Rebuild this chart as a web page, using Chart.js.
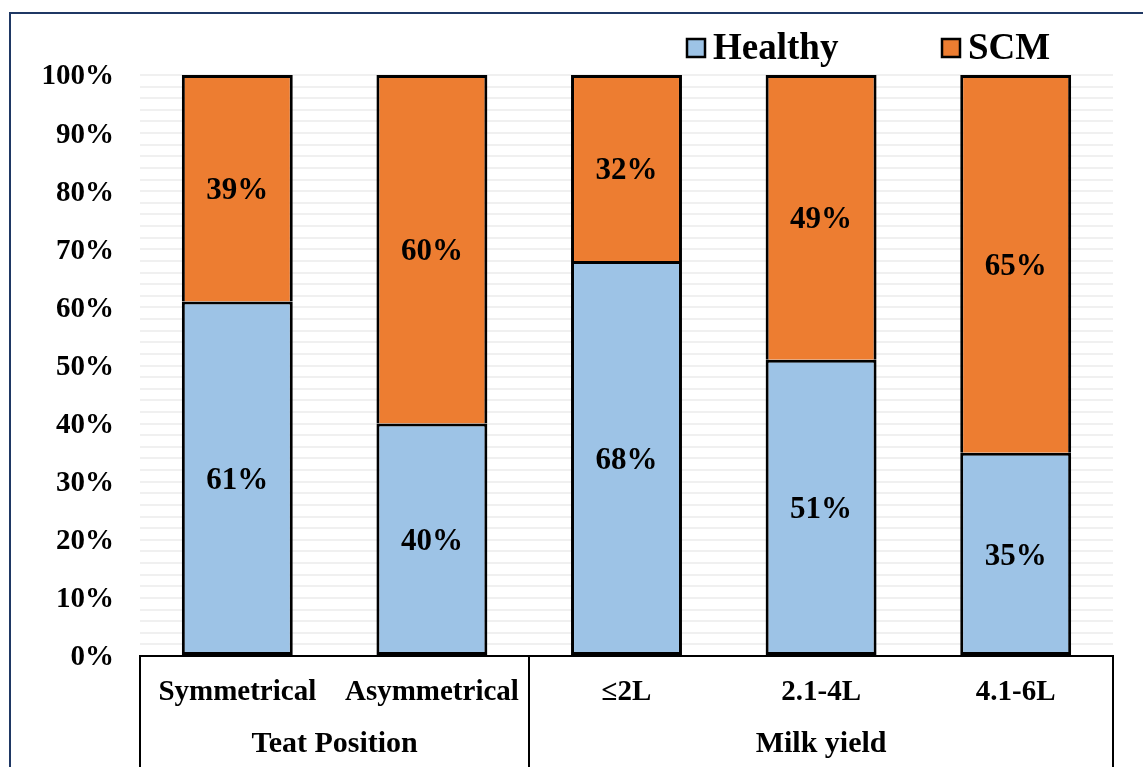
<!DOCTYPE html>
<html>
<head>
<meta charset="utf-8">
<script src="https://cdn.jsdelivr.net/npm/chart.js@4/dist/chart.umd.min.js"></script>
<style>
  html, body { margin: 0; padding: 0; background: #ffffff; }
  #wrap { width: 1143px; height: 767px; position: relative; }
</style>
</head>
<body>
<div id="wrap"><canvas id="chart" width="1143" height="767"></canvas></div>
<script>
// Categories along the x axis and the group each belongs to
const categories = ['Symmetrical', 'Asymmetrical', '\u22642L', '2.1-4L', '4.1-6L'];
const groupNames = ['Teat Position', 'Milk yield'];
const groupSizes = [2, 3];

// Share of cows (%) in each category
const healthy = [61, 40, 68, 51, 35];
const scm = [39, 60, 32, 49, 65];

// Y axis tick values that carry a label
const yLabelStep = 10;

const SERIF = '"Liberation Serif", "Times New Roman", serif';
const BLUE = '#9DC3E6';
const ORANGE = '#ED7D31';

// Outer frame of the figure
const framePlugin = {
  id: 'frame',
  beforeDraw(chart) {
    const ctx = chart.ctx;
    ctx.save();
    ctx.strokeStyle = '#1F3864';
    ctx.lineWidth = 2;
    ctx.beginPath();
    ctx.moveTo(10, chart.height);
    ctx.lineTo(10, 13);
    ctx.lineTo(chart.width, 13);
    ctx.stroke();
    ctx.restore();
  }
};

// Percentage text centred in every bar segment
const barLabels = {
  id: 'barLabels',
  afterDatasetsDraw(chart) {
    const ctx = chart.ctx;
    ctx.save();
    ctx.font = 'bold 31px ' + SERIF;
    ctx.fillStyle = '#000000';
    ctx.textAlign = 'center';
    ctx.textBaseline = 'middle';
    chart.data.datasets.forEach((ds, di) => {
      const meta = chart.getDatasetMeta(di);
      meta.data.forEach((bar, i) => {
        const v = ds.data[i];
        ctx.fillText(v + '%', bar.x, (bar.y + bar.base) / 2 + 3);
      });
    });
    ctx.restore();
  }
};

// Two-level category axis: separators and group titles under the tick labels
const groupAxis = {
  id: 'groupAxis',
  afterDraw(chart) {
    const ctx = chart.ctx;
    const xs = chart.scales.x;
    const area = chart.chartArea;
    const step = (area.right - area.left) / categories.length;
    ctx.save();
    ctx.strokeStyle = '#000000';
    ctx.lineWidth = 2;
    // boundaries between groups
    let idx = 0;
    const bounds = [xs.getPixelForValue(0) - step / 2];
    groupSizes.forEach(n => {
      idx += n;
      bounds.push(xs.getPixelForValue(idx - 1) + step / 2);
    });
    bounds.forEach(b => {
      ctx.beginPath();
      ctx.moveTo(Math.round(b), area.bottom);
      ctx.lineTo(Math.round(b), chart.height);
      ctx.stroke();
    });
    // group titles
    ctx.font = 'bold 30px ' + SERIF;
    ctx.fillStyle = '#000000';
    ctx.textAlign = 'center';
    ctx.textBaseline = 'middle';
    groupNames.forEach((name, g) => {
      ctx.fillText(name, (bounds[g] + bounds[g + 1]) / 2, 744);
    });
    ctx.restore();
  }
};

// Legend drawn above the plot, right side
const topLegend = {
  id: 'topLegend',
  afterDraw(chart) {
    const ctx = chart.ctx;
    const starts = [686, 941];
    ctx.save();
    ctx.font = 'bold 37px ' + SERIF;
    ctx.textAlign = 'left';
    ctx.textBaseline = 'middle';
    chart.data.datasets.forEach((ds, i) => {
      const x = starts[i];
      ctx.fillStyle = ds.backgroundColor;
      ctx.fillRect(x, 38, 20, 20);
      ctx.strokeStyle = '#000000';
      ctx.lineWidth = 2.5;
      ctx.strokeRect(x + 1, 39, 18, 18);
      ctx.fillStyle = '#000000';
      ctx.fillText(ds.label, x + 27, 49);
    });
    ctx.restore();
  }
};

new Chart(document.getElementById('chart'), {
  type: 'bar',
  data: {
    labels: categories,
    datasets: [
      {
        label: 'Healthy',
        data: healthy,
        backgroundColor: BLUE,
        borderColor: '#000000',
        borderWidth: 3,
        borderSkipped: false
      },
      {
        label: 'SCM',
        data: scm,
        backgroundColor: ORANGE,
        borderColor: '#000000',
        borderWidth: { top: 3, left: 3, right: 3, bottom: 0 },
        borderSkipped: false
      }
    ]
  },
  options: {
    responsive: false,
    animation: false,
    events: [],
    layout: { padding: { top: 75, right: 30, bottom: 0, left: 0 } },
    datasets: { bar: { barPercentage: 0.57, categoryPercentage: 1 } },
    plugins: {
      legend: { display: false },
      tooltip: { enabled: false }
    },
    scales: {
      x: {
        stacked: true,
        grid: { display: false, drawTicks: false },
        border: { display: true, color: '#000000', width: 2 },
        ticks: {
          autoSkip: false,
          maxRotation: 0,
          padding: 19,
          color: '#000000',
          font: { family: SERIF, size: 29, weight: 'bold' }
        },
        afterFit(scale) { scale.height = 111; }
      },
      y: {
        stacked: true,
        min: 0,
        max: 100,
        border: { display: false },
        grid: {
          drawTicks: false,
          lineWidth: 2,
          color: c => (c.tick && c.tick.value === 0) ? 'rgba(0,0,0,0)' : '#F0F0F0'
        },
        ticks: {
          stepSize: 2,
          autoSkip: false,
          padding: 26,
          labelOffset: 2,
          color: '#000000',
          font: { family: SERIF, size: 29, weight: 'bold' },
          callback: v => (v % yLabelStep === 0 ? v + '%' : '')
        },
        afterFit(scale) { scale.width = 140; }
      }
    }
  },
  plugins: [framePlugin, barLabels, groupAxis, topLegend]
});
</script>
</body>
</html>
